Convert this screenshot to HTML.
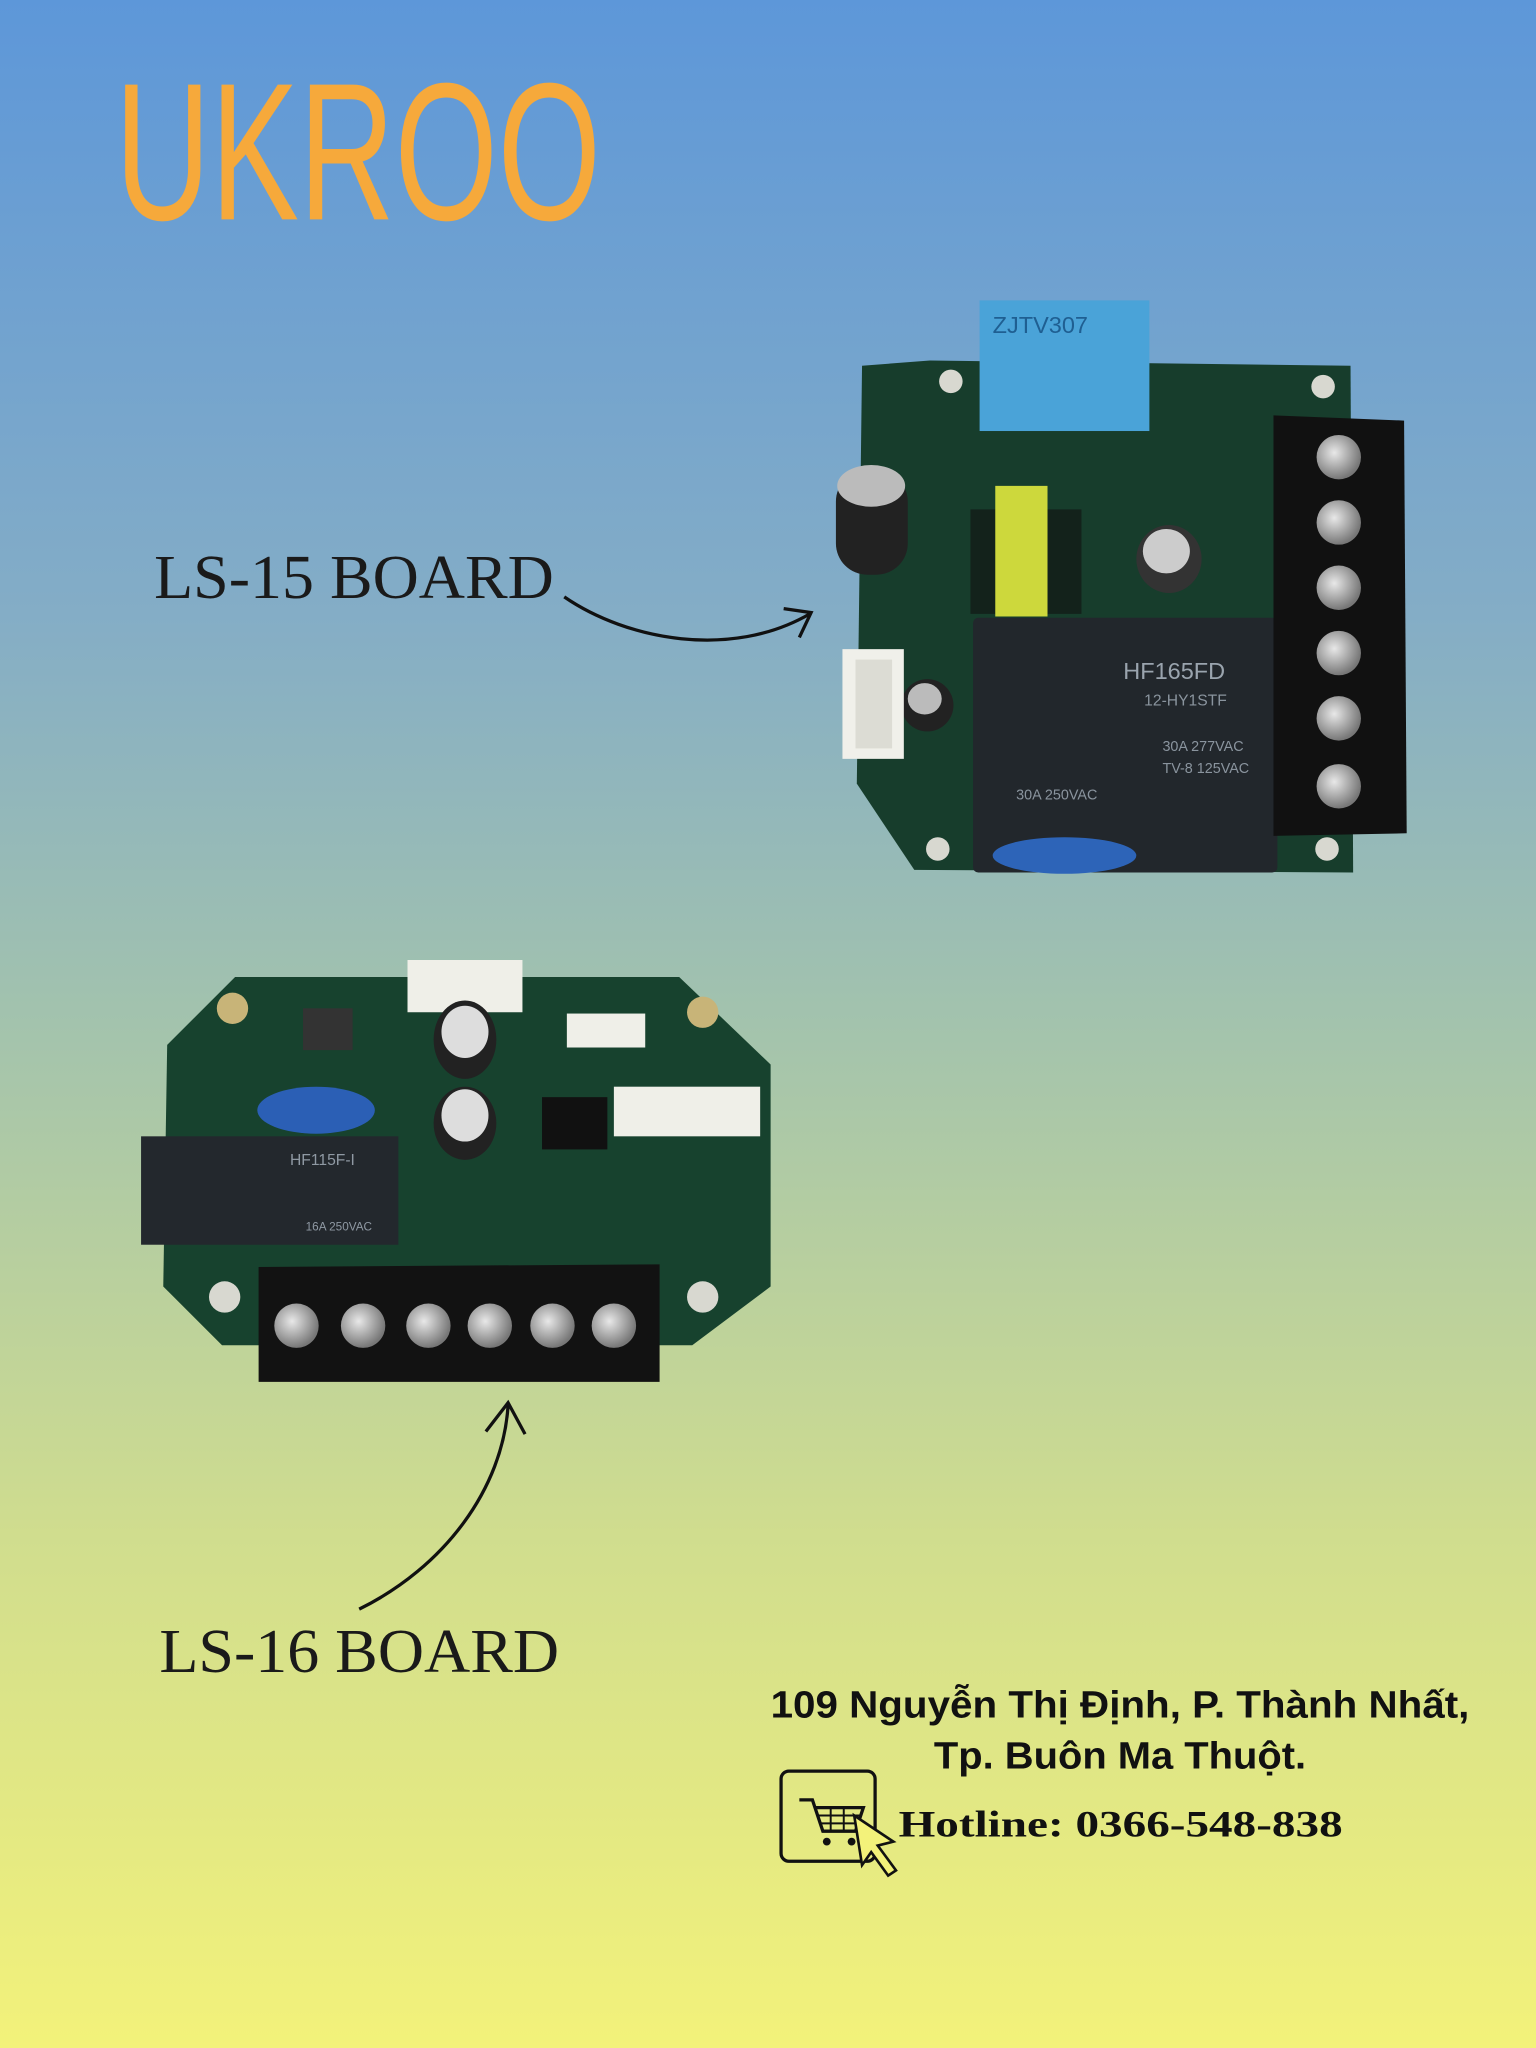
<!DOCTYPE html>
<html><head><meta charset="utf-8"><style>
html,body{margin:0;padding:0;width:1536px;height:2048px;overflow:hidden}
svg{display:block}
</style></head><body>
<svg width="1536" height="2048" viewBox="0 0 1176 1568" xmlns="http://www.w3.org/2000/svg">
<defs>
<linearGradient id="bg" x1="0" y1="0" x2="0" y2="1">
<stop offset="0" stop-color="#5d97d9"/>
<stop offset="0.3" stop-color="#84adc6"/>
<stop offset="0.5" stop-color="#a3c3ad"/>
<stop offset="0.75" stop-color="#d0dd8e"/>
<stop offset="1" stop-color="#f3f27a"/>
</linearGradient>
<radialGradient id="scr" cx="0.4" cy="0.4" r="0.6"><stop offset="0" stop-color="#e8e8e8"/><stop offset="1" stop-color="#777"/></radialGradient>
</defs>
<rect width="1176" height="1568" fill="url(#bg)"/>

<!-- Logo -->
<text x="88" y="168" font-family="Liberation Sans, sans-serif" font-size="150" fill="#f6a93b" textLength="372" lengthAdjust="spacingAndGlyphs">UKROO</text>

<!-- LS-15 board -->
<g>
<polygon points="712,276 1034,280 1036,668 700,666 656,600 660,280" fill="#173d2c"/>
<circle cx="728" cy="292" r="9" fill="#d8d8d0"/><circle cx="1013" cy="296" r="9" fill="#d8d8d0"/>
<circle cx="1016" cy="650" r="9" fill="#d8d8d0"/><circle cx="718" cy="650" r="9" fill="#d8d8d0"/>
<rect x="750" y="230" width="130" height="100" fill="#4aa3d8"/>
<text x="760" y="255" font-family="Liberation Sans, sans-serif" font-size="18" fill="#1f5f92">ZJTV307</text>
<rect x="743" y="390" width="85" height="80" fill="#111" opacity="0.6"/>
<rect x="762" y="372" width="40" height="100" fill="#cdd83c"/>
<rect x="640" y="360" width="55" height="80" rx="24" fill="#222"/>
<ellipse cx="667" cy="372" rx="26" ry="16" fill="#bbb"/>
<ellipse cx="895" cy="428" rx="25" ry="26" fill="#333"/><ellipse cx="893" cy="422" rx="18" ry="17" fill="#ccc"/>
<ellipse cx="710" cy="540" rx="20" ry="20" fill="#222"/><ellipse cx="708" cy="535" rx="13" ry="12" fill="#bbb"/>
<rect x="645" y="497" width="47" height="84" fill="#f0f0ea"/>
<rect x="655" y="505" width="28" height="68" fill="#dcdcd4"/>
<rect x="745" y="473" width="233" height="195" rx="4" fill="#22272c"/>
<text x="860" y="520" font-family="Liberation Sans, sans-serif" font-size="18" fill="#9aa4ae">HF165FD</text>
<text x="876" y="540" font-family="Liberation Sans, sans-serif" font-size="12" fill="#8a949e">12-HY1STF</text>
<text x="890" y="575" font-family="Liberation Sans, sans-serif" font-size="11" fill="#8a949e">30A 277VAC</text>
<text x="890" y="592" font-family="Liberation Sans, sans-serif" font-size="11" fill="#8a949e">TV-8 125VAC</text>
<text x="778" y="612" font-family="Liberation Sans, sans-serif" font-size="11" fill="#8a949e">30A 250VAC</text>
<ellipse cx="815" cy="655" rx="55" ry="14" fill="#2d64b8"/>
<polygon points="975,318 1075,322 1077,638 975,640" fill="#111"/>
<g fill="url(#scr)">
<circle cx="1025" cy="350" r="17"/><circle cx="1025" cy="400" r="17"/><circle cx="1025" cy="450" r="17"/>
<circle cx="1025" cy="500" r="17"/><circle cx="1025" cy="550" r="17"/><circle cx="1025" cy="602" r="17"/>
</g>
</g>

<text x="118" y="458" font-family="Liberation Serif, serif" font-size="48" fill="#1a1a1a" textLength="306" lengthAdjust="spacingAndGlyphs">LS-15 BOARD</text>
<path d="M432,457 C480,490 560,505 620,470" fill="none" stroke="#111" stroke-width="2.5"/>
<path d="M600,466 L621,469 L612,488" fill="none" stroke="#111" stroke-width="2.5"/>

<!-- LS-16 board -->
<g>
<polygon points="180,748 520,748 590,815 590,985 530,1030 170,1030 125,985 128,800" fill="#17422e"/>
<circle cx="178" cy="772" r="12" fill="#c8b478"/><circle cx="538" cy="775" r="12" fill="#c8b478"/>
<circle cx="172" cy="993" r="12" fill="#d8d8d0"/><circle cx="538" cy="993" r="12" fill="#d8d8d0"/>
<rect x="312" y="735" width="88" height="40" fill="#efefe8"/>
<rect x="434" y="776" width="60" height="26" fill="#efefe8"/>
<rect x="470" y="832" width="112" height="38" fill="#efefe8"/>
<ellipse cx="356" cy="796" rx="24" ry="30" fill="#222"/><ellipse cx="356" cy="790" rx="18" ry="20" fill="#ddd"/>
<ellipse cx="356" cy="860" rx="24" ry="28" fill="#222"/><ellipse cx="356" cy="854" rx="18" ry="20" fill="#ddd"/>
<ellipse cx="242" cy="850" rx="45" ry="18" fill="#2b5fb5"/>
<rect x="232" y="772" width="38" height="32" fill="#333"/>
<rect x="415" y="840" width="50" height="40" fill="#111"/>
<rect x="108" y="870" width="197" height="83" fill="#23282d"/>
<text x="222" y="892" font-family="Liberation Sans, sans-serif" font-size="12" fill="#8f99a3">HF115F-I</text>
<text x="234" y="942" font-family="Liberation Sans, sans-serif" font-size="9" fill="#8f99a3">16A 250VAC</text>
<polygon points="198,970 505,968 505,1058 198,1058" fill="#121212"/>
<g fill="url(#scr)">
<circle cx="227" cy="1015" r="17"/><circle cx="278" cy="1015" r="17"/><circle cx="328" cy="1015" r="17"/>
<circle cx="375" cy="1015" r="17"/><circle cx="423" cy="1015" r="17"/><circle cx="470" cy="1015" r="17"/>
</g>
</g>

<path d="M275,1232 C340,1200 385,1140 389,1076" fill="none" stroke="#111" stroke-width="2.5"/>
<path d="M372,1096 L389,1074 L402,1098" fill="none" stroke="#111" stroke-width="2.5"/>
<text x="122" y="1280" font-family="Liberation Serif, serif" font-size="48" fill="#1a1a1a" textLength="306" lengthAdjust="spacingAndGlyphs">LS-16 BOARD</text>

<text x="590" y="1315" font-family="Liberation Sans, sans-serif" font-weight="bold" font-size="29" fill="#111" textLength="535" lengthAdjust="spacingAndGlyphs">109 Nguyễn Thị Định, P. Thành Nhất,</text>
<text x="715" y="1354" font-family="Liberation Sans, sans-serif" font-weight="bold" font-size="29" fill="#111" textLength="285" lengthAdjust="spacingAndGlyphs">Tp. Buôn Ma Thuột.</text>

<rect x="598" y="1356" width="72" height="69" rx="6" fill="none" stroke="#111" stroke-width="2.5"/>
<path d="M612,1378 L622,1378 L630,1402 L655,1402 L661,1384 L624,1384" fill="none" stroke="#111" stroke-width="2.5"/>
<path d="M626,1390 L658,1390 M628,1396 L656,1396 M636,1384 L636,1402 M646,1384 L646,1402" stroke="#111" stroke-width="1.5"/>
<circle cx="633" cy="1410" r="3" fill="#111"/><circle cx="652" cy="1410" r="3" fill="#111"/>
<path d="M654,1390 L684,1410 L672,1413 L686,1432 L680,1436 L667,1418 L660,1428 Z" fill="#f3f27a" stroke="#111" stroke-width="2"/>

<text x="688" y="1406" font-family="Liberation Serif, serif" font-weight="bold" font-size="28" fill="#111" textLength="340" lengthAdjust="spacingAndGlyphs">Hotline: 0366-548-838</text>
</svg>
</body></html>
